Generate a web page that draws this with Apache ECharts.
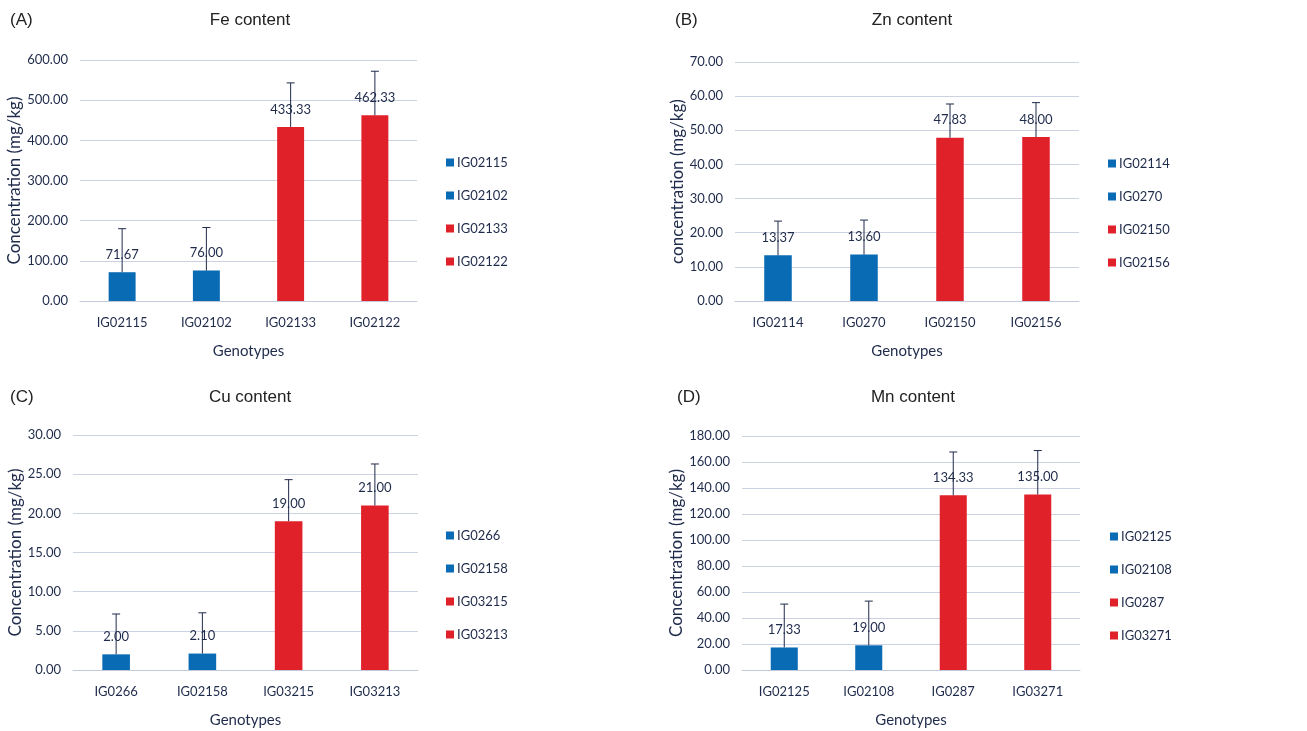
<!DOCTYPE html>
<html lang="en">
<head>
<meta charset="UTF-8" />
<title>Mineral content</title>
<script src="https://cdn.jsdelivr.net/npm/echarts@6/dist/echarts.min.js"></script>
<style>
  html, body { margin: 0; padding: 0; background: #fff; }
  #chart { width: 1307px; height: 731px; }
</style>
</head>
<body>
<div id="chart"></div>
<script>
// panel A - Fe
const feNames = ["IG02115", "IG02102", "IG02133", "IG02122"];
const feMeans = [71.67, 76.00, 433.33, 462.33];
const feTops = [180, 183, 543, 572];
// panel B - Zn
const znNames = ["IG02114", "IG0270", "IG02150", "IG02156"];
const znMeans = [13.37, 13.60, 47.83, 48.00];
const znTops = [23.4, 23.7, 57.7, 58.1];
// panel C - Cu
const cuNames = ["IG0266", "IG02158", "IG03215", "IG03213"];
const cuMeans = [2.00, 2.10, 19.00, 21.00];
const cuTops = [7.15, 7.3, 24.3, 26.3];
// panel D - Mn
const mnNames = ["IG02125", "IG02108", "IG0287", "IG03271"];
const mnMeans = [17.33, 19.00, 134.33, 135.00];
const mnTops = [50.7, 53, 167.7, 168.8];

const yMax = [600, 70, 30, 180];
const yStep = [100, 10, 5, 20];
const titles = ["Fe content", "Zn content", "Cu content", "Mn content"];
const letters = ["(A)", "(B)", "(C)", "(D)"];
const yNames = ["Concentration (mg/kg)", "concentration (mg/kg)", "Concentration (mg/kg)", "Concentration (mg/kg)"];

const BLUE = "#0a6bb5", RED = "#e1212a", INK = "#1f2b4b";
const barColors = [BLUE, BLUE, RED, RED];
const FONT = "Lato";

const panels = [
  { names: feNames, means: feMeans, tops: feTops, grid: [80, 60, 337, 241], nameGap: 56, legend: [441, 151], title: [250, 20], letter: [10, 20], xName: 352 },
  { names: znNames, means: znMeans, tops: znTops, grid: [735, 62, 344, 239], nameGap: 48, legend: [1103, 152], title: [912, 20], letter: [675, 20], xName: 352 },
  { names: cuNames, means: cuMeans, tops: cuTops, grid: [73, 435, 345, 235], nameGap: 49, legend: [441, 524], title: [250, 397], letter: [10, 397], xName: 721 },
  { names: mnNames, means: mnMeans, tops: mnTops, grid: [742, 436, 338, 234], nameGap: 55, legend: [1105, 525], title: [913, 397], letter: [677, 397], xName: 721 }
];

const grid = [], xAxis = [], yAxis = [], legend = [], series = [], graphic = [];

panels.forEach((p, k) => {
  grid.push({ left: p.grid[0], top: p.grid[1], width: p.grid[2], height: p.grid[3], containLabel: false });
  xAxis.push({
    type: "category", gridIndex: k, data: p.names,
    name: "Genotypes", nameLocation: "middle", nameGap: p.xName - (p.grid[1] + p.grid[3]) - 8,
    nameTextStyle: { fontFamily: FONT, fontSize: 15, color: INK },
    axisLine: { lineStyle: { color: "#c3c8da" } },
    axisTick: { show: false },
    axisLabel: { fontFamily: FONT, fontSize: 13, color: INK, margin: 15 }
  });
  yAxis.push({
    type: "value", gridIndex: k, min: 0, max: yMax[k], interval: yStep[k],
    name: yNames[k], nameLocation: "middle", nameGap: p.nameGap,
    nameTextStyle: { fontFamily: FONT, fontSize: 17, color: INK },
    axisLine: { show: false }, axisTick: { show: false },
    axisLabel: { fontFamily: FONT, fontSize: 13, color: INK, margin: 12, formatter: v => v.toFixed(2) },
    splitLine: { lineStyle: { color: "#cdd2e3", width: 1 } }
  });
  legend.push({
    data: p.names, orient: "vertical", left: p.legend[0], top: p.legend[1],
    itemWidth: 8, itemHeight: 8, itemGap: 20, icon: "rect",
    textStyle: { fontFamily: FONT, fontSize: 13, color: INK, padding: [0, 0, 0, -2] }, selectedMode: false
  });
  p.names.forEach((n, i) => {
    series.push({
      type: "bar", name: n, xAxisIndex: k, yAxisIndex: k, stack: "s" + k,
      barWidth: p.grid[2] / 4 * 0.32,
      data: p.names.map((_, j) => (j === i ? p.means[i] : "-")),
      itemStyle: { color: barColors[i] },
      label: {
        show: true, position: "top", distance: 11,
        fontFamily: FONT, fontSize: 13, color: INK,
        formatter: d => Number(d.value).toFixed(2)
      },
      emphasis: { disabled: true }
    });
  });
  series.push({
    type: "custom", name: "err" + k, xAxisIndex: k, yAxisIndex: k, z: 10, silent: true,
    data: p.names.map((_, i) => [i, p.means[i], p.tops[i]]),
    encode: { x: 0, y: [1, 2] },
    renderItem: (params, api) => {
      const a = api.coord([api.value(0), api.value(1)]);
      const b = api.coord([api.value(0), api.value(2)]);
      const st = { stroke: INK, lineWidth: 1 };
      return {
        type: "group", children: [
          { type: "line", shape: { x1: a[0], y1: a[1], x2: b[0], y2: b[1] }, style: st },
          { type: "line", shape: { x1: b[0] - 4, y1: b[1], x2: b[0] + 4, y2: b[1] }, style: st }
        ]
      };
    }
  });
  graphic.push({
    type: "text", x: p.title[0], y: p.title[1],
    style: { text: titles[k], font: '17px "Liberation Sans", Arial, sans-serif', fill: "#222", textAlign: "center", textVerticalAlign: "middle" }
  });
  graphic.push({
    type: "text", x: p.letter[0], y: p.letter[1],
    style: { text: letters[k], font: '17px "Liberation Sans", Arial, sans-serif', fill: "#222", textAlign: "left", textVerticalAlign: "middle" }
  });
});

const chart = echarts.init(document.getElementById("chart"), null, { renderer: "canvas" });
chart.setOption({
  backgroundColor: "#fff",
  animation: false,
  grid, xAxis, yAxis, legend, series, graphic
});
</script>
</body>
</html>
